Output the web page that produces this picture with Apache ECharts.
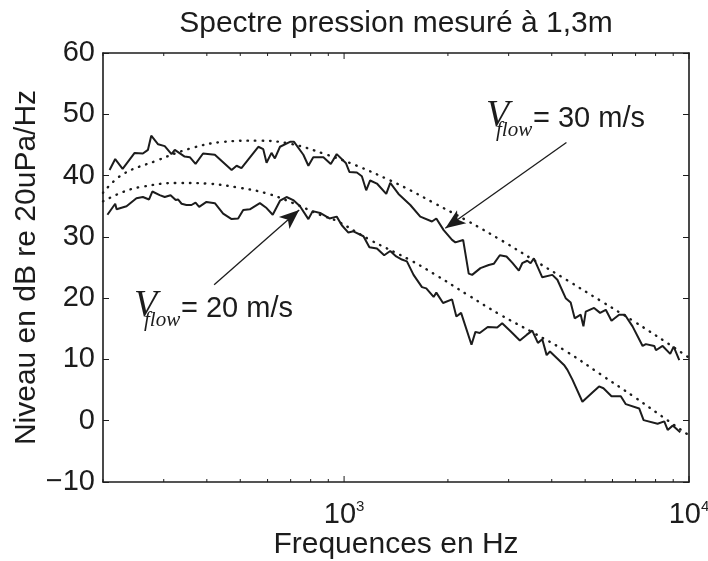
<!DOCTYPE html>
<html>
<head>
<meta charset="utf-8">
<script src="https://cdn.jsdelivr.net/npm/echarts@6/dist/echarts.min.js"></script>
<style>
  html, body { margin: 0; padding: 0; background: #ffffff; }
  #chart { width: 708px; height: 561px; }
</style>
</head>
<body>
<div id="chart"></div>
<script>
// Measured spectrum, flow speed 30 m/s (Hz, dB)
const freq30 = [209,217,228,247,261,270,276,289,302,316,323,345,357,371,390,422,472,488,504,564,583,596,616,630,652,697,716,762,788,814,871,915,952,1013,1036,1089,1126,1159,1190,1245,1325,1361,1438,1556,1663,1798,1851,1944,2056,2102,2214,2298,2351,2485,2627,2716,2828,2957,3072,3211,3285,3397,3473,3550,3755,4016,4153,4390,4539,4662,4853,4942,5019,5307,5524,5738,5961,6272,6516,6860,7337,7499,7930,8020,8386,8822,9027,9371];
const level30 = [40.9,42.7,41.1,43.7,43.6,44.2,46.5,45.1,44.8,43.5,44.2,43.1,43.0,41.9,43.6,43.4,40.9,41.6,41.2,44.7,44.3,42.1,43.7,42.8,44.7,45.5,45.5,43.4,41.6,43.0,43.0,41.9,43.5,42.0,40.6,40.5,39.9,37.6,39.2,38.7,37.0,38.8,37.0,35.2,33.3,32.5,33.0,31.1,29.5,29.1,29.5,24.0,23.8,24.9,25.4,25.6,27.0,26.8,25.8,24.5,25.7,26.1,25.7,26.5,23.4,23.8,23.0,20.0,19.3,16.7,17.3,15.4,17.8,18.4,17.6,18.1,16.3,17.3,17.3,15.4,12.2,12.5,12.2,11.5,12.2,10.9,12.1,9.9];

// Measured spectrum, flow speed 20 m/s (Hz, dB)
const freq20 = [206,217,219,234,250,261,272,278,292,302,314,325,330,338,349,361,371,380,399,422,446,472,493,510,533,570,596,621,652,681,712,745,788,811,852,907,952,985,1029,1064,1138,1184,1245,1307,1361,1416,1471,1521,1590,1682,1731,1818,1851,1936,2056,2116,2184,2341,2403,2473,2609,2779,2873,3038,3233,3381,3512,3647,3755,3866,3953,4341,4441,4592,4909,5248,5486,5649,5961,6343,6559,7170,7385,8110,8478,8673,8969,9434];
const level20 = [33.6,35.4,34.5,35.0,36.3,36.5,36.1,37.4,36.8,36.5,36.8,36.0,36.1,35.4,35.2,35.2,35.6,34.9,35.7,35.5,33.8,32.9,33.0,34.4,34.5,35.5,34.7,33.6,35.9,36.5,36.0,35.0,32.9,34.2,33.9,33.0,33.3,31.9,30.7,30.9,30.1,28.3,28.1,27.0,27.7,26.8,26.3,26.0,23.8,21.8,21.6,20.2,20.9,19.2,19.8,17.0,17.6,12.4,14.5,14.3,15.3,15.2,15.9,14.6,13.1,14.0,14.7,12.7,13.3,10.7,11.3,9.1,8.3,6.7,3.1,4.6,5.6,5.3,4.0,4.0,2.7,2.0,0.1,-0.5,-0.1,-1.5,-0.8,-1.9];

// Model spectra (dotted curves)
const modelFreq30 = [200,228,285,357,446,564,697,871,1089,1361,1556,1798,2280,2885,3550,4440,5530,6930,8640,10000];
const modelLevel30 = [37.2,40.2,42.4,44.4,45.5,45.7,45.2,43.6,41.6,39.2,37.6,35.7,32.6,29.3,26.2,22.9,19.6,16.2,12.7,10.3];
const modelFreq20 = [200,228,255,327,399,499,596,712,852,952,1190,1556,1818,2273,2835,3550,4440,5530,6930,8110,10000];
const modelLevel20 = [35.8,37.3,38.1,38.8,38.7,38.0,37.1,35.5,33.6,32.6,29.5,26.2,24.0,20.6,17.3,14.3,11.2,7.6,3.9,1.2,-2.4];

// Axis ticks
const xMajorTicks = [1000, 10000];
const xMinorTicks = [200,300,400,500,600,700,800,900,2000,3000,4000,5000,6000,7000,8000,9000];
const xRange = [200, 10000];
const yRange = [-10, 60];
const yStep = 10;

// Annotation arrows: [from (Hz, dB), to (Hz, dB)]
const arrow30 = [[4412, 45.4], [1966, 31.4]];
const arrow20 = [[420, 22.2], [741, 34.4]];

const ink = '#1c1c1c';
const sans = '"Liberation Sans", Arial, Helvetica, sans-serif';
const serif = '"Liberation Serif", "Times New Roman", serif';
const MAJOR_LEN = 6, MINOR_LEN = 3;

const zip = (xs, ys) => xs.map((x, i) => [x, ys[i]]);

// Frequency axes (log scale): data, frame lines and decade labels
function freqAxis(position, withLabels) {
  return {
    type: 'log', logBase: 10, position: position,
    min: xRange[0], max: xRange[1],
    axisLine: { show: true, onZero: false, lineStyle: { color: ink, width: 1.6 } },
    axisTick: { show: false },
    splitLine: { show: false },
    minorTick: { show: false },
    axisLabel: withLabels ? {
      show: true, customValues: xMajorTicks, margin: 17,
      formatter: v => '{b|10}{e|' + Math.round(Math.log10(v)) + '}',
      rich: {
        b: { fontSize: 29, fontFamily: sans, color: ink, lineHeight: 30, verticalAlign: 'bottom' },
        e: { fontSize: 15, fontFamily: sans, color: ink, lineHeight: 30, verticalAlign: 'top' }
      }
    } : { show: false },
    name: withLabels ? 'Frequences en Hz' : '',
    nameLocation: 'middle', nameGap: 48, nameMoveOverlap: false,
    nameTextStyle: { fontSize: 30, fontFamily: sans, color: ink }
  };
}

function yAxisDef(position, withLabels) {
  return {
    type: 'value', position: position,
    min: yRange[0], max: yRange[1], interval: yStep,
    axisLine: { show: true, onZero: false, lineStyle: { color: ink, width: 1.6 } },
    axisTick: { show: true, inside: true, length: MAJOR_LEN, lineStyle: { color: ink, width: 1 } },
    splitLine: { show: false },
    axisLabel: withLabels ? {
      show: true, margin: 8, fontSize: 29, fontFamily: sans, color: ink,
      formatter: v => String(v).replace('-', '\u2212')
    } : { show: false },
    name: withLabels ? 'Niveau en dB re 20uPa/Hz' : '',
    nameLocation: 'middle', nameRotate: 90, nameGap: 61, nameMoveOverlap: false,
    nameTextStyle: { fontSize: 30, fontFamily: sans, color: ink }
  };
}

// Inside tick marks on the bottom and top frame edges at decade / sub-decade frequencies
function renderFreqTick(params, api) {
  const f = api.value(0);
  const len = xMajorTicks.indexOf(f) >= 0 ? MAJOR_LEN : MINOR_LEN;
  const bottom = api.coord([f, yRange[0]]);
  const top = api.coord([f, yRange[1]]);
  const style = { stroke: ink, lineWidth: 1 };
  return {
    type: 'group',
    children: [
      { type: 'line', shape: { x1: bottom[0], y1: bottom[1], x2: bottom[0], y2: bottom[1] - len }, style: style },
      { type: 'line', shape: { x1: top[0], y1: top[1], x2: top[0], y2: top[1] + len }, style: style }
    ]
  };
}

const arrowHead = { symbol: 'arrow', symbolSize: [12, 20] };
const arrowLine = {
  silent: true, animation: false,
  symbol: ['none', 'arrow'],
  symbolSize: 18,
  label: { show: false },
  lineStyle: { color: ink, width: 1.3, type: 'solid' },
  itemStyle: { color: ink },
  data: [
    [{ coord: arrow30[0], symbol: 'none' }, Object.assign({ coord: arrow30[1] }, arrowHead)],
    [{ coord: arrow20[0], symbol: 'none' }, Object.assign({ coord: arrow20[1] }, arrowHead)]
  ]
};

function vflowLabel(x, baseY, valueText) {
  return {
    type: 'group', silent: true,
    children: [
      { type: 'text', x: x, y: baseY - 13,
        style: { text: 'V', font: 'italic 38px ' + serif, fill: ink, verticalAlign: 'middle', align: 'left' } },
      { type: 'text', x: x + 10, y: baseY + 1,
        style: { text: 'flow', font: 'italic 21px ' + serif, fill: ink, verticalAlign: 'middle', align: 'left' } },
      { type: 'text', x: x + 47, y: baseY - 10,
        style: { text: '= ' + valueText, font: '29px ' + sans, fill: ink, verticalAlign: 'middle', align: 'left' } }
    ]
  };
}

const chart = echarts.init(document.getElementById('chart'), null, { renderer: 'canvas' });
chart.setOption({
  animation: false,
  backgroundColor: '#ffffff',
  title: {
    text: 'Spectre pression mesuré à 1,3m',
    left: 391, top: 4, textAlign: 'center',
    textStyle: { fontSize: 30, fontWeight: 'normal', fontFamily: sans, color: ink }
  },
  grid: { left: 103, right: 19, top: 53, bottom: 79, containLabel: false, outerBoundsMode: 'none' },
  xAxis: [freqAxis('bottom', true), freqAxis('top', false)],
  yAxis: [yAxisDef('left', true), yAxisDef('right', false)],
  series: [
    { type: 'custom', name: 'graduations', silent: true, clip: false,
      data: xMajorTicks.concat(xMinorTicks).map(f => [f, yRange[0]]),
      renderItem: renderFreqTick, z: 4 },
    { type: 'line', name: '30 m/s', data: zip(freq30, level30), showSymbol: false, symbol: 'none',
      lineStyle: { color: ink, width: 2 }, markLine: arrowLine, z: 3 },
    { type: 'line', name: '20 m/s', data: zip(freq20, level20), showSymbol: false, symbol: 'none',
      lineStyle: { color: ink, width: 2 }, z: 3 },
    { type: 'line', name: 'modèle 30 m/s', data: zip(modelFreq30, modelLevel30), showSymbol: false, symbol: 'none',
      smooth: 0.4, lineStyle: { color: ink, width: 2.4, type: [0.5, 7], cap: 'round' }, z: 2 },
    { type: 'line', name: 'modèle 20 m/s', data: zip(modelFreq20, modelLevel20), showSymbol: false, symbol: 'none',
      smooth: 0.4, lineStyle: { color: ink, width: 2.4, type: [0.5, 7], cap: 'round' }, z: 2 }
  ],
  graphic: [
    vflowLabel(486, 129, '30 m/s'),
    vflowLabel(134, 319, '20 m/s')
  ]
});
</script>
</body>
</html>
